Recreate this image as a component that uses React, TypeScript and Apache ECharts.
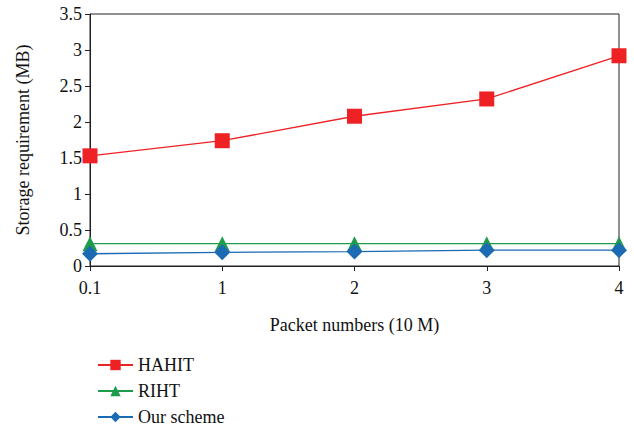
import React, { useEffect, useRef } from "react";
import * as echarts from "echarts";

const categories = ["0.1", "1", "2", "3", "4"];
const hahit = [1.53, 1.74, 2.08, 2.32, 2.92];
const riht = [0.31, 0.31, 0.31, 0.31, 0.31];
const ours = [0.17, 0.19, 0.2, 0.22, 0.22];

const FONT = "Liberation Serif";

export default function App() {
  const ref = useRef<HTMLDivElement>(null);
  useEffect(() => {
    const chart = echarts.init(ref.current!, null, { renderer: "svg" });
    chart.setOption({
      animation: false,
      textStyle: { fontFamily: FONT, color: "#111" },
      grid: {
        left: 90,
        right: 15,
        top: 14,
        bottom: 162,
        show: true,
        borderColor: "#222",
        borderWidth: 1,
      },
      legend: {
        orient: "vertical",
        left: 92,
        top: 351,
        height: 80,
        itemWidth: 35,
        itemHeight: 13,
        itemGap: 8,
        textStyle: { fontFamily: FONT, fontSize: 18, color: "#111" },
        data: ["HAHIT", "RIHT", "Our scheme"],
      },
      xAxis: {
        type: "category",
        data: categories,
        boundaryGap: false,
        name: "Packet numbers (10 M)",
        nameLocation: "middle",
        nameGap: 50,
        nameTextStyle: { fontFamily: FONT, fontSize: 18, color: "#111" },
        axisLine: { lineStyle: { color: "#222", width: 1 } },
        axisTick: { show: true, inside: false, length: 5, alignWithLabel: true, lineStyle: { color: "#222" } },
        axisLabel: { fontFamily: FONT, fontSize: 18, color: "#111", margin: 13 },
        splitLine: { show: false },
      },
      yAxis: {
        type: "value",
        min: 0,
        max: 3.5,
        interval: 0.5,
        name: "Storage requirement (MB)",
        nameLocation: "middle",
        nameGap: 58,
        nameRotate: 90,
        nameTextStyle: { fontFamily: FONT, fontSize: 18, color: "#111" },
        axisLine: { show: true, lineStyle: { color: "#222", width: 1 } },
        axisTick: { show: true, inside: false, length: 5, lineStyle: { color: "#222" } },
        axisLabel: { fontFamily: FONT, fontSize: 18, color: "#111", margin: 8 },
        splitLine: { show: false },
      },
      series: [
        {
          name: "HAHIT",
          type: "line",
          data: hahit,
          symbol: "rect",
          symbolSize: 15,
          itemStyle: { color: "#EE2124" },
          lineStyle: { color: "#EE2124", width: 1.3 },
        },
        {
          name: "RIHT",
          type: "line",
          data: riht,
          symbol: "triangle",
          symbolSize: 15,
          itemStyle: { color: "#1E9B4B" },
          lineStyle: { color: "#1E9B4B", width: 1.3 },
        },
        {
          name: "Our scheme",
          type: "line",
          data: ours,
          symbol: "diamond",
          symbolSize: 16,
          itemStyle: { color: "#1A6BB4" },
          lineStyle: { color: "#1A6BB4", width: 1.3 },
        },
      ],
    });
    return () => chart.dispose();
  }, []);
  return <div ref={ref} style={{ width: 634, height: 428, position: "absolute", left: 0, top: 0 }} />;
}
